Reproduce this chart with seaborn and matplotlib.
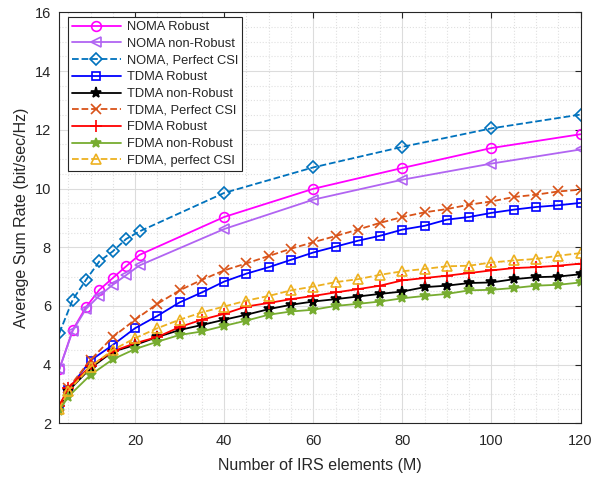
import numpy as np
import pandas as pd
import matplotlib
matplotlib.use("Agg")
import matplotlib.pyplot as plt
import seaborn as sns
from matplotlib.ticker import MultipleLocator

# ---- data ----
x_noma = [3, 6, 9, 12, 15, 18, 21, 40, 60, 80, 100, 120]
noma_robust = [3.84, 5.18, 5.96, 6.55, 6.95, 7.35, 7.74, 9.03, 9.99, 10.70, 11.38, 11.85]
noma_nonrobust = [3.84, 5.15, 5.90, 6.35, 6.72, 7.05, 7.38, 8.62, 9.62, 10.30, 10.85, 11.33]
noma_perfect = [5.07, 6.21, 6.89, 7.52, 7.86, 8.28, 8.54, 9.85, 10.72, 11.42, 12.05, 12.52]

x_oma = [3, 5, 10, 15, 20, 25, 30, 35, 40, 45, 50, 55, 60, 65, 70, 75, 80,
         85, 90, 95, 100, 105, 110, 115, 120]
tdma_robust = [2.57, 3.14, 4.14, 4.67, 5.24, 5.66, 6.12, 6.46, 6.83, 7.10, 7.32,
               7.57, 7.82, 8.02, 8.22, 8.39, 8.60, 8.73, 8.94, 9.03, 9.17, 9.28,
               9.37, 9.43, 9.51]
tdma_nonrobust = [2.55, 3.10, 3.88, 4.44, 4.67, 4.94, 5.18, 5.35, 5.53, 5.70, 5.89,
                  6.04, 6.15, 6.23, 6.32, 6.41, 6.49, 6.64, 6.69, 6.78, 6.80, 6.91,
                  6.98, 7.00, 7.08]
tdma_perfect = [2.60, 3.20, 4.16, 4.94, 5.53, 6.07, 6.53, 6.89, 7.21, 7.45, 7.70,
                7.95, 8.17, 8.38, 8.60, 8.83, 9.03, 9.19, 9.30, 9.45, 9.56, 9.71,
                9.79, 9.90, 9.96]
fdma_robust = [2.60, 3.20, 3.95, 4.45, 4.73, 4.94, 5.28, 5.53, 5.73, 5.98, 6.10,
               6.23, 6.34, 6.46, 6.57, 6.69, 6.87, 6.95, 7.03, 7.12, 7.21, 7.29,
               7.32, 7.37, 7.44]
fdma_nonrobust = [2.43, 2.91, 3.65, 4.18, 4.53, 4.78, 5.01, 5.13, 5.32, 5.50, 5.70,
                  5.81, 5.87, 6.00, 6.07, 6.15, 6.26, 6.34, 6.41, 6.53, 6.55, 6.61,
                  6.69, 6.72, 6.80]
fdma_perfect = [2.50, 3.10, 3.93, 4.50, 4.90, 5.24, 5.53, 5.78, 5.98, 6.18, 6.34,
                6.53, 6.66, 6.81, 6.91, 7.06, 7.18, 7.26, 7.35, 7.37, 7.48, 7.55,
                7.60, 7.71, 7.80]

x_ticks = [20, 40, 60, 80, 100, 120]
y_ticks = [2, 4, 6, 8, 10, 12, 14, 16]

series = [
    ("NOMA Robust", x_noma, noma_robust, "#FF00FF", "o", "-", 7),
    ("NOMA non-Robust", x_noma, noma_nonrobust, "#B164F2", "<", "-", 7),
    ("NOMA, Perfect CSI", x_noma, noma_perfect, "#0072BD", "D", "--", 6.5),
    ("TDMA Robust", x_oma, tdma_robust, "#0000FF", "s", "-", 5.5),
    ("TDMA non-Robust", x_oma, tdma_nonrobust, "#000000", "*", "-", 8),
    ("TDMA, Perfect CSI", x_oma, tdma_perfect, "#D95319", "x", "--", 6.5),
    ("FDMA Robust", x_oma, fdma_robust, "#FF0000", "+", "-", 8),
    ("FDMA non-Robust", x_oma, fdma_nonrobust, "#77AC30", "*", "-", 7),
    ("FDMA, perfect CSI", x_oma, fdma_perfect, "#EDB120", "^", "--", 7.5),
]

sns.set_style("white")
plt.rcParams["font.family"] = ["Liberation Sans", "DejaVu Sans"]

fig = plt.figure(figsize=(5.95, 4.78), dpi=100)
ax = fig.add_axes([0.0997, 0.1144, 0.8760, 0.8596])

for name, xs, ys, color, marker, ls, ms in series:
    df = pd.DataFrame({"x": xs, "y": ys})
    filled = marker in ("*",)
    kw = dict(markerfacecolor=color if filled else "none",
              markeredgecolor=color)
    if marker in ("x", "+"):
        kw = dict(markeredgecolor=color)
    sns.lineplot(data=df, x="x", y="y", ax=ax, color=color, marker=marker,
                 linestyle=ls, linewidth=1.3, markersize=ms, markeredgewidth=1.2,
                 label=name, legend=False, **kw)

ax.set_xlim(3, 120)
ax.set_ylim(2, 16)
ax.set_xticks(x_ticks)
ax.set_yticks(y_ticks)
ax.xaxis.set_minor_locator(MultipleLocator(5))
ax.yaxis.set_minor_locator(MultipleLocator(0.5))
ax.grid(which="major", color="#DCDCDC", linestyle="-", linewidth=0.8)
ax.grid(which="minor", color="#E0E0E0", linestyle=":", linewidth=0.8)
ax.set_axisbelow(True)
ax.tick_params(which="both", direction="in", top=True, right=True,
               labelsize=10.5, colors="#262626", length=4)
ax.tick_params(axis="x", pad=8)
ax.tick_params(axis="y", pad=6)
ax.tick_params(which="minor", length=0)
for sp in ax.spines.values():
    sp.set_color("#262626")
    sp.set_linewidth(0.8)

ax.set_xlabel("Number of IRS elements (M)", fontsize=11.5, color="#262626", labelpad=7)
ax.set_ylabel("Average Sum Rate (bit/sec/Hz)", fontsize=11.5, color="#262626", labelpad=4)

leg = ax.legend(loc="upper left", bbox_to_anchor=(0.016, 0.988), fontsize=9.3,
                handlelength=3.8, borderaxespad=0, frameon=True, fancybox=False,
                edgecolor="#262626", labelspacing=0.36, borderpad=0.3,
                handletextpad=0.5, framealpha=1)
leg.get_frame().set_linewidth(0.8)

fig.savefig("out.png", dpi=100)
